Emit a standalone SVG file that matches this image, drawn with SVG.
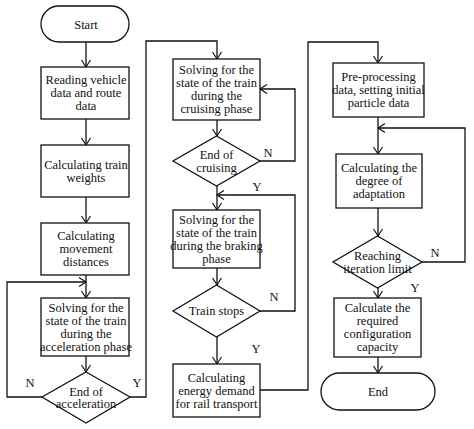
<svg xmlns="http://www.w3.org/2000/svg" width="474" height="429" viewBox="0 0 474 429" font-family="Liberation Serif, serif">
<defs>
<marker id="arr" markerWidth="10" markerHeight="10" refX="8" refY="5" orient="auto" markerUnits="userSpaceOnUse">
<path d="M1,0.5 L8,5 L1,9.5" fill="none" stroke="#111" stroke-width="1.2"/>
</marker>
<style>
.s{fill:#fff;stroke:#111;stroke-width:1.3}
.c{fill:none;stroke:#111;stroke-width:1.3}
text{font-family:'Liberation Serif','Times New Roman',serif;font-size:12.5px;fill:#111;text-anchor:middle}
</style>
</defs>
<rect width="474" height="429" fill="#fff"/>
<g id="connectors">
<path class="c" d="M86,42 V67" marker-end="url(#arr)"/>
<path class="c" d="M86,119 V145" marker-end="url(#arr)"/>
<path class="c" d="M86,197 V223" marker-end="url(#arr)"/>
<path class="c" d="M86,275 V298" marker-end="url(#arr)"/>
<path class="c" d="M86,356 V372" marker-end="url(#arr)"/>
<path class="c" d="M42,397 H7 V282 H86" marker-end="url(#arr)"/>
<path class="c" d="M130,397 H146 V41 H217 V59" marker-end="url(#arr)"/>
<path class="c" d="M217,120 V136" marker-end="url(#arr)"/>
<path class="c" d="M260,161 H295 V89 H260" marker-end="url(#arr)"/>
<path class="c" d="M217,186 V210" marker-end="url(#arr)"/>
<path class="c" d="M217,268 V285" marker-end="url(#arr)"/>
<path class="c" d="M260,311 H295 V195 H217" marker-end="url(#arr)"/>
<path class="c" d="M217,337 V364" marker-end="url(#arr)"/>
<path class="c" d="M260,390 H308 V42 H378 V63" marker-end="url(#arr)"/>
<path class="c" d="M378,117 V154" marker-end="url(#arr)"/>
<path class="c" d="M422,262 H465 V128 H378" marker-end="url(#arr)"/>
<path class="c" d="M378,208 V236" marker-end="url(#arr)"/>
<path class="c" d="M378,288 V298" marker-end="url(#arr)"/>
<path class="c" d="M378,357 V373" marker-end="url(#arr)"/>
<text x="30" y="387">N</text>
<text x="137" y="387">Y</text>
<text x="268" y="157">N</text>
<text x="257" y="191">Y</text>
<text x="274" y="301">N</text>
<text x="256" y="353">Y</text>
<text x="435" y="257">N</text>
<text x="415" y="292">Y</text>
</g>
<g id="start">
<rect class="s" x="41" y="6" width="88" height="36" rx="18"/>
<text x="86" y="28.5">Start</text>
</g>
<g id="read">
<rect class="s" x="41" y="67" width="88" height="52"/>
<text x="86" y="84">Reading vehicle</text>
<text x="86" y="97">data and route</text>
<text x="86" y="110">data</text>
</g>
<g id="weights">
<rect class="s" x="41" y="145" width="88" height="52"/>
<text x="86" y="168.5">Calculating train</text>
<text x="86" y="181.5">weights</text>
</g>
<g id="distances">
<rect class="s" x="41" y="223" width="88" height="52"/>
<text x="86" y="240">Calculating</text>
<text x="86" y="253">movement</text>
<text x="86" y="266">distances</text>
</g>
<g id="accel">
<rect class="s" x="41" y="298" width="88" height="58"/>
<text x="86" y="311.5">Solving for the</text>
<text x="86" y="324.5">state of the train</text>
<text x="86" y="337.5">during the</text>
<text x="86" y="350.5">acceleration phase</text>
</g>
<g id="endAccel">
<polygon class="s" points="86,372 130,397 86,423 42,397"/>
<text x="86" y="395.5">End of</text>
<text x="86" y="408">acceleration</text>
</g>
<g id="cruise">
<rect class="s" x="173" y="59" width="87" height="61"/>
<text x="216.5" y="74">Solving for the</text>
<text x="216.5" y="87">state of the train</text>
<text x="216.5" y="100">during the</text>
<text x="216.5" y="113">cruising phase</text>
</g>
<g id="endCruise">
<polygon class="s" points="216.5,136 260,161 216.5,186 173,161"/>
<text x="216.5" y="159">End of</text>
<text x="216.5" y="172">cruising</text>
</g>
<g id="brake">
<rect class="s" x="173" y="210" width="87" height="58"/>
<text x="216.5" y="223.5">Solving for the</text>
<text x="216.5" y="236.5">state of the train</text>
<text x="216.5" y="249.5">during the braking</text>
<text x="216.5" y="262.5">phase</text>
</g>
<g id="stops">
<polygon class="s" points="216.5,285 260,311 216.5,337 173,311"/>
<text x="216.5" y="315">Train stops</text>
</g>
<g id="energy">
<rect class="s" x="173" y="364" width="87" height="53"/>
<text x="216.5" y="381.5">Calculating</text>
<text x="216.5" y="394.5">energy demand</text>
<text x="216.5" y="407.5">for rail transport</text>
</g>
<g id="pre">
<rect class="s" x="333" y="63" width="91" height="54"/>
<text x="378.5" y="81">Pre-processing</text>
<text x="378.5" y="94">data, setting initial</text>
<text x="378.5" y="107">particle data</text>
</g>
<g id="adapt">
<rect class="s" x="336" y="154" width="86" height="54"/>
<text x="379" y="172">Calculating the</text>
<text x="379" y="185">degree of</text>
<text x="379" y="198">adaptation</text>
</g>
<g id="reach">
<polygon class="s" points="377.5,236 422,262 377.5,288 333,262"/>
<text x="377.5" y="259.5">Reaching</text>
<text x="377.5" y="272.5">iteration limit</text>
</g>
<g id="capacity">
<rect class="s" x="334" y="298" width="87" height="59"/>
<text x="377.5" y="312">Calculate the</text>
<text x="377.5" y="325">required</text>
<text x="377.5" y="338">configuration</text>
<text x="377.5" y="351">capacity</text>
</g>
<g id="end">
<rect class="s" x="321" y="373" width="114" height="37" rx="18.5"/>
<text x="378" y="396">End</text>
</g>
</svg>
